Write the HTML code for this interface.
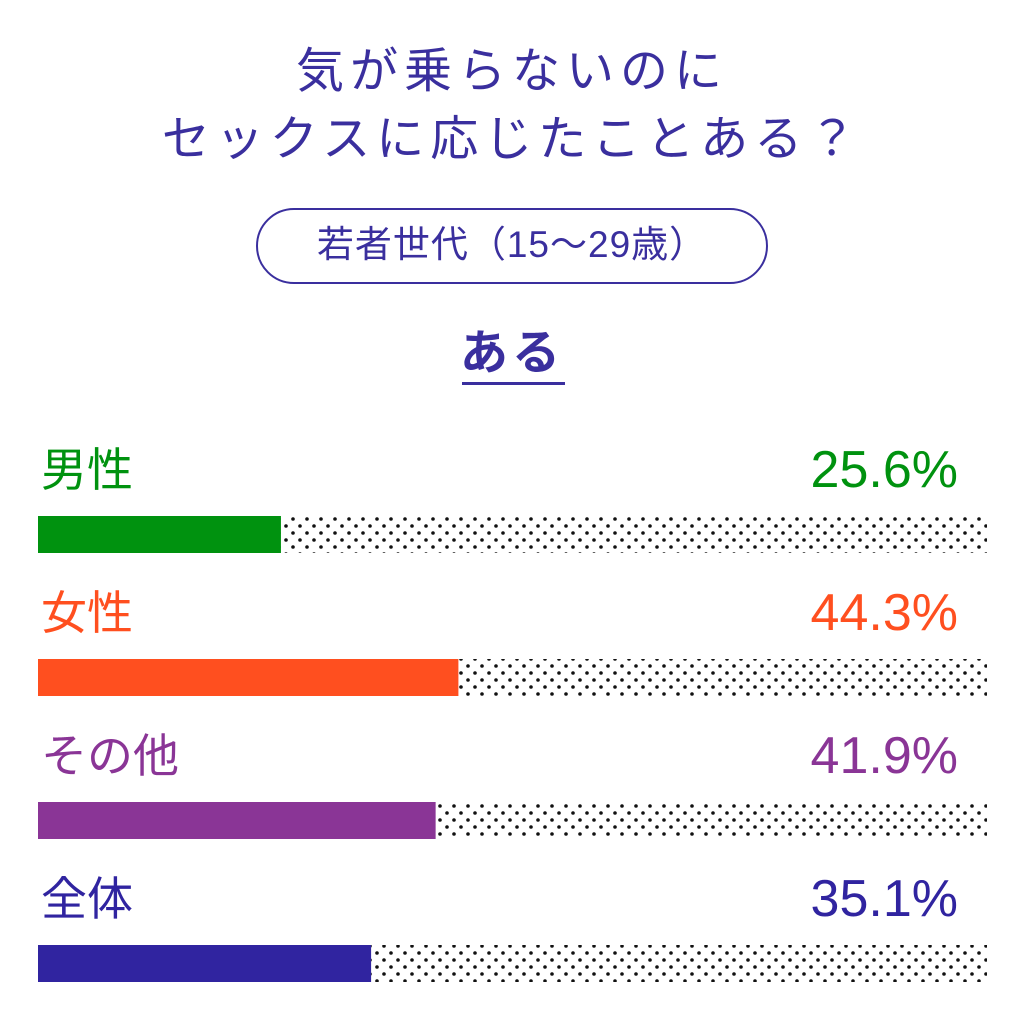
<!DOCTYPE html>
<html><head><meta charset="utf-8">
<style>
body{margin:0;width:1024px;height:1024px;background:#fff;overflow:hidden;font-family:"Liberation Sans","Noto Sans CJK JP",sans-serif;}
.t{position:absolute;left:0;width:1024px;text-align:center;color:#3a2f9e;}
</style></head><body>
<div class="t" style="top:38px;font-size:48px;line-height:68px;letter-spacing:6px;">気が乗らないのに<br>セックスに応じたことある？</div>
<div style="position:absolute;left:256px;top:208px;width:512px;height:76px;border:2px solid #3a2f9e;border-radius:40px;box-sizing:border-box;color:#3a2f9e;font-size:37px;line-height:70px;text-align:center;letter-spacing:1px;">若者世代（15～29歳）</div>
<div class="t" style="top:328px;font-size:48px;font-weight:bold;line-height:52px;letter-spacing:4px;">ある</div>
<div style="position:absolute;left:462px;top:382px;width:103px;height:3px;background:#3a2f9e;"></div>
<svg id="chart" width="1024" height="1024" style="position:absolute;left:0;top:0">
<defs><pattern id="dots" width="14" height="14" patternUnits="userSpaceOnUse" x="38" y="516">
<circle cx="3" cy="3" r="1.8" fill="#111"/><circle cx="10" cy="10" r="1.8" fill="#111"/></pattern></defs>
</svg>
<script>
const categories=["男性","女性","その他","全体"];
const values=[25.6,44.3,41.9,35.1];
const colors=["#00920f","#ff4f1f","#8a3596","#3024a0"];
const svg=document.getElementById('chart');
const NS="http://www.w3.org/2000/svg";
const x0=38,x1=987;
function xs(v){return x0+(x1-x0)*v/100;}
function yb(i){return 516+i*143;}
categories.forEach((c,i)=>{
  const y=yb(i);
  const bg=document.createElementNS(NS,'rect');
  bg.setAttribute('x',x0);bg.setAttribute('y',y);bg.setAttribute('width',x1-x0);bg.setAttribute('height',37);bg.setAttribute('fill','url(#dots)');
  
  
  svg.appendChild(bg);
  const r=document.createElementNS(NS,'rect');
  r.setAttribute('x',x0);r.setAttribute('y',y);r.setAttribute('width',xs(values[i])-x0);r.setAttribute('height',37);r.setAttribute('fill',colors[i]);
  
  
  svg.appendChild(r);
  const l=document.createElementNS(NS,'text');
  l.setAttribute('x',41);l.setAttribute('y',y-30);l.setAttribute('fill',colors[i]);l.setAttribute('font-size','46');
  l.setAttribute('font-family','"Liberation Sans","Noto Sans CJK JP",sans-serif');
  l.textContent=c;
  
  
  svg.appendChild(l);
  const v=document.createElementNS(NS,'text');
  v.setAttribute('x',958);v.setAttribute('y',y-29);v.setAttribute('fill',colors[i]);v.setAttribute('font-size','52');v.setAttribute('text-anchor','end');
  v.setAttribute('font-family','"Liberation Sans",sans-serif');
  v.textContent=values[i].toFixed(1)+'%';
  
  
  svg.appendChild(v);
});
</script>
</body></html>
